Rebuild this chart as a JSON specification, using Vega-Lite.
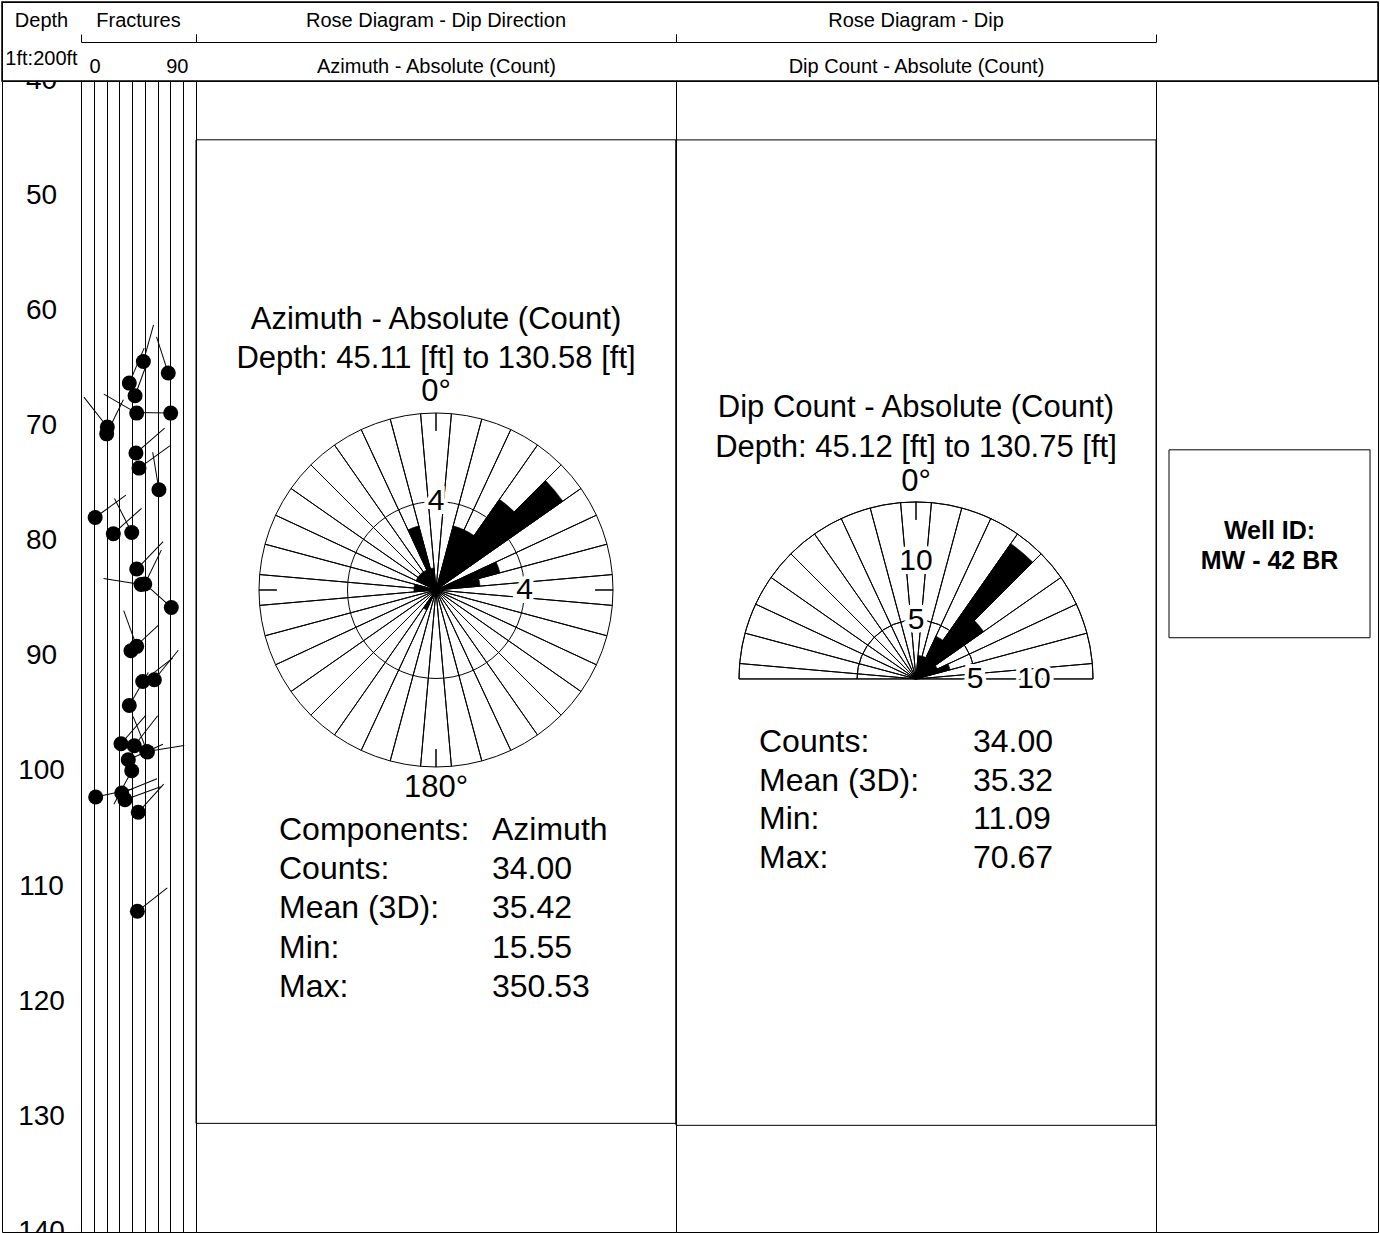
{
  "$schema": "https://vega.github.io/schema/vega-lite/v6.json",
  "padding": 0,
  "autosize": {"type": "pad"},
  "background": "white",
  "config": {
    "font": "Liberation Sans",
    "view": {"stroke": "black", "strokeWidth": 1},
    "title": {"font": "Liberation Sans", "fontWeight": "normal", "fontSize": 20, "color": "black", "subtitleFont": "Liberation Sans", "subtitleFontSize": 20, "subtitleColor": "black"},
    "axis": {"labelFont": "Liberation Sans", "titleFont": "Liberation Sans", "labelColor": "black", "titleColor": "black", "domainColor": "black", "tickColor": "black", "titleFontWeight": "normal"},
    "text": {"font": "Liberation Sans", "color": "black"}
  },
  "datasets": {
    "fractures": [
      {"depth": 64.37, "dip": 48.8, "azimuth": 15.55},
      {"depth": 65.38, "dip": 68.3, "azimuth": 342},
      {"depth": 66.25, "dip": 37.8, "azimuth": 23},
      {"depth": 67.35, "dip": 42.3, "azimuth": 20},
      {"depth": 68.86, "dip": 43.6, "azimuth": 300},
      {"depth": 68.86, "dip": 70.2, "azimuth": 271},
      {"depth": 70.07, "dip": 20.6, "azimuth": 322},
      {"depth": 70.66, "dip": 20.1, "azimuth": 26},
      {"depth": 72.33, "dip": 43.0, "azimuth": 49},
      {"depth": 73.64, "dip": 45.4, "azimuth": 54},
      {"depth": 75.52, "dip": 61.0, "azimuth": 350.53},
      {"depth": 77.93, "dip": 11.09, "azimuth": 54},
      {"depth": 79.34, "dip": 25.3, "azimuth": 48},
      {"depth": 79.23, "dip": 39.7, "azimuth": 333},
      {"depth": 82.41, "dip": 43.6, "azimuth": 44},
      {"depth": 83.71, "dip": 49.9, "azimuth": 26},
      {"depth": 83.75, "dip": 47.0, "azimuth": 279},
      {"depth": 85.75, "dip": 70.67, "azimuth": 312},
      {"depth": 89.51, "dip": 39.1, "azimuth": 47},
      {"depth": 89.13, "dip": 43.6, "azimuth": 340},
      {"depth": 92.18, "dip": 48.3, "azimuth": 52},
      {"depth": 92.03, "dip": 57.4, "azimuth": 39},
      {"depth": 94.26, "dip": 37.8, "azimuth": 30},
      {"depth": 97.59, "dip": 31.3, "azimuth": 41},
      {"depth": 97.76, "dip": 41.7, "azimuth": 38},
      {"depth": 98.26, "dip": 51.4, "azimuth": 81},
      {"depth": 98.3, "dip": 52.0, "azimuth": 338},
      {"depth": 98.98, "dip": 37.0, "azimuth": 66},
      {"depth": 99.94, "dip": 39.7, "azimuth": 208},
      {"depth": 102.22, "dip": 11.5, "azimuth": 78},
      {"depth": 101.87, "dip": 31.9, "azimuth": 68},
      {"depth": 102.45, "dip": 34.4, "azimuth": 70},
      {"depth": 103.55, "dip": 44.8, "azimuth": 42},
      {"depth": 112.15, "dip": 44.1, "azimuth": 52}
    ]
  },
  "spacing": 0,
  "bounds": "flush",
  "vconcat": [
    {
      "width": 1376,
      "height": 79,
      "data": {"values": [{}]},
      "mark": {"type": "rect", "fill": "white", "fillOpacity": 0, "stroke": "black", "strokeWidth": 1.5},
      "encoding": {
        "x": {"value": 0},
        "x2": {"value": "width"},
        "y": {"value": 0},
        "y2": {"value": "height"}
      }
    },
    {
      "spacing": 0,
      "bounds": "flush",
      "hconcat": [
        {
          "width": 79,
          "height": 1151,
          "title": {"text": "Depth", "subtitle": "1ft:200ft", "subtitlePadding": 18, "offset": 12, "anchor": "middle"},
          "data": {"values": [{"depth": 40}, {"depth": 50}, {"depth": 60}, {"depth": 70}, {"depth": 80}, {"depth": 90}, {"depth": 100}, {"depth": 110}, {"depth": 120}, {"depth": 130}, {"depth": 140}]},
          "mark": {"type": "text", "fontSize": 28, "clip": true, "align": "center", "baseline": "middle"},
          "encoding": {
            "y": {"field": "depth", "type": "quantitative", "scale": {"domain": [40, 140.02], "reverse": true, "nice": false, "zero": false}, "axis": null},
            "text": {"field": "depth", "type": "quantitative"}
          }
        },
        {
          "width": 115,
          "height": 1151,
          "title": {"text": "Fractures", "offset": 3, "anchor": "middle"},
          "data": {"name": "fractures"},
          "encoding": {
            "x": {
              "field": "dip", "type": "quantitative",
              "scale": {"domain": [0, 90], "nice": false, "zero": false},
              "axis": {
                "orient": "top", "offset": 39, "values": [0, 10, 20, 30, 40, 50, 60, 70, 80, 90],
                "grid": true, "gridColor": "black", "gridOpacity": 1, "gridWidth": 1,
                "domain": true, "domainWidth": 1, "ticks": true, "tickSize": 8, "tickWidth": 1,
                "tickColor": {"condition": {"test": "datum.value == 0 || datum.value == 90", "value": "black"}, "value": "transparent"},
                "labelExpr": "datum.value == 0 || datum.value == 90 ? datum.label : ''",
                "labelOverlap": false, "labelFlush": true, "labelFlushOffset": -8,
                "labelPadding": -32, "labelBaseline": "middle", "labelFontSize": 20, "title": null
              }
            },
            "y": {"field": "depth", "type": "quantitative", "scale": {"domain": [40, 140.02], "reverse": true, "nice": false, "zero": false}, "axis": null}
          },
          "layer": [
            {
              "mark": {"type": "point", "shape": "M0,0L0,-2", "filled": false, "color": "black", "strokeWidth": 1, "size": 1444, "opacity": 1},
              "encoding": {"angle": {"field": "azimuth", "type": "quantitative", "scale": null}}
            },
            {
              "mark": {"type": "point", "shape": "circle", "filled": true, "color": "black", "size": 225, "opacity": 1}
            }
          ]
        },
        {
          "width": 480,
          "height": 1151,
          "title": {"text": "Rose Diagram - Dip Direction", "offset": 3, "anchor": "middle"},
          "layer": [
            {
              "data": {"values": [{"top": 45.11, "base": 130.58}]},
              "mark": {"type": "rect", "fill": "white", "fillOpacity": 0, "stroke": "black", "strokeWidth": 1},
              "encoding": {
                "x": {"datum": 0, "type": "quantitative", "scale": {"domain": [0, 1], "nice": false, "zero": false},
                  "axis": {"orient": "top", "offset": 39, "values": [0, 1], "grid": false, "domain": true, "ticks": true, "tickSize": 8, "labels": false,
                    "title": "Azimuth - Absolute (Count)", "titleFontSize": 20, "titleY": 24, "titleBaseline": "middle"}},
                "x2": {"datum": 1},
                "y": {"field": "top", "type": "quantitative", "scale": {"domain": [40, 140.02], "reverse": true, "nice": false, "zero": false}, "axis": null},
                "y2": {"field": "base"}
              }
            },
            {
              "data": {"values": [
                {"a0": -5, "a1": 5}, {"a0": 5, "a1": 15}, {"a0": 15, "a1": 25}, {"a0": 25, "a1": 35}, {"a0": 35, "a1": 45}, {"a0": 45, "a1": 55},
                {"a0": 55, "a1": 65}, {"a0": 65, "a1": 75}, {"a0": 75, "a1": 85}, {"a0": 85, "a1": 95}, {"a0": 95, "a1": 105}, {"a0": 105, "a1": 115},
                {"a0": 115, "a1": 125}, {"a0": 125, "a1": 135}, {"a0": 135, "a1": 145}, {"a0": 145, "a1": 155}, {"a0": 155, "a1": 165}, {"a0": 165, "a1": 175},
                {"a0": 175, "a1": 185}, {"a0": 185, "a1": 195}, {"a0": 195, "a1": 205}, {"a0": 205, "a1": 215}, {"a0": 215, "a1": 225}, {"a0": 225, "a1": 235},
                {"a0": 235, "a1": 245}, {"a0": 245, "a1": 255}, {"a0": 255, "a1": 265}, {"a0": 265, "a1": 275}, {"a0": 275, "a1": 285}, {"a0": 285, "a1": 295},
                {"a0": 295, "a1": 305}, {"a0": 305, "a1": 315}, {"a0": 315, "a1": 325}, {"a0": 325, "a1": 335}, {"a0": 335, "a1": 345}, {"a0": 345, "a1": 355}
              ]},
              "mark": {"type": "arc", "filled": false, "color": "black", "strokeWidth": 1},
              "encoding": {
                "theta": {"field": "a0", "type": "quantitative", "stack": null, "scale": {"domain": [0, 360], "range": [0, 6.283185307179586], "nice": false, "zero": false}},
                "theta2": {"field": "a1"},
                "radius": {"datum": 8, "type": "quantitative", "scale": {"type": "linear", "domain": [0, 8], "range": [0, 177], "nice": false, "zero": true}},
                "radius2": {"value": 0},
                "y": {"datum": 84.23, "type": "quantitative", "scale": {"domain": [40, 140.02], "reverse": true, "nice": false, "zero": false}, "axis": null}
              }
            },
            {
              "data": {"values": [{"ring": 4}]},
              "mark": {"type": "arc", "filled": false, "color": "black", "strokeWidth": 1},
              "encoding": {
                "theta": {"datum": 0, "type": "quantitative", "stack": null, "scale": {"domain": [0, 360], "range": [0, 6.283185307179586], "nice": false, "zero": false}},
                "theta2": {"datum": 360},
                "radius": {"field": "ring", "type": "quantitative", "scale": {"type": "linear", "domain": [0, 8], "range": [0, 177], "nice": false, "zero": true}},
                "radius2": {"value": 0},
                "y": {"datum": 84.23, "type": "quantitative", "scale": {"domain": [40, 140.02], "reverse": true, "nice": false, "zero": false}, "axis": null}
              }
            },
            {
              "data": {"values": [{"deg": 0}, {"deg": 90}, {"deg": 180}, {"deg": 270}]},
              "mark": {"type": "arc", "filled": false, "color": "black", "strokeWidth": 1},
              "encoding": {
                "theta": {"field": "deg", "type": "quantitative", "stack": null, "scale": {"domain": [0, 360], "range": [0, 6.283185307179586], "nice": false, "zero": false}},
                "theta2": {"field": "deg"},
                "radius": {"datum": 8, "type": "quantitative", "scale": {"type": "linear", "domain": [0, 8], "range": [0, 177], "nice": false, "zero": true}},
                "radius2": {"datum": 7.19},
                "y": {"datum": 84.23, "type": "quantitative", "scale": {"domain": [40, 140.02], "reverse": true, "nice": false, "zero": false}, "axis": null}
              }
            },
            {
              "data": {"name": "fractures"},
              "transform": [
                {"bin": {"extent": [5, 365], "step": 10, "nice": false}, "field": "azimuth", "as": ["az0", "az1"]},
                {"aggregate": [{"op": "count", "as": "n"}], "groupby": ["az0", "az1"]}
              ],
              "mark": {"type": "arc", "filled": true, "color": "black", "stroke": "black", "strokeWidth": 0.5},
              "encoding": {
                "theta": {"field": "az0", "type": "quantitative", "stack": null, "scale": {"domain": [0, 360], "range": [0, 6.283185307179586], "nice": false, "zero": false}},
                "theta2": {"field": "az1"},
                "radius": {"field": "n", "type": "quantitative", "scale": {"type": "linear", "domain": [0, 8], "range": [0, 177], "nice": false, "zero": true}},
                "radius2": {"value": 0},
                "y": {"datum": 84.23, "type": "quantitative", "scale": {"domain": [40, 140.02], "reverse": true, "nice": false, "zero": false}, "axis": null}
              }
            },
            {
              "data": {"values": [{"deg": 0, "ring": 4, "label": "4"}, {"deg": 90, "ring": 4, "label": "4"}]},
              "mark": {"type": "text", "fontSize": 30, "fill": "white", "stroke": "white", "strokeWidth": 8, "align": "center", "baseline": "middle"},
              "encoding": {
                "theta": {"field": "deg", "type": "quantitative", "stack": null, "scale": {"domain": [0, 360], "range": [0, 6.283185307179586], "nice": false, "zero": false}},
                "radius": {"field": "ring", "type": "quantitative", "scale": {"type": "linear", "domain": [0, 8], "range": [0, 177], "nice": false, "zero": true}},
                "text": {"field": "label", "type": "nominal"},
                "y": {"datum": 84.23, "type": "quantitative", "scale": {"domain": [40, 140.02], "reverse": true, "nice": false, "zero": false}, "axis": null}
              }
            },
            {
              "data": {"values": [{"deg": 0, "ring": 4, "label": "4"}, {"deg": 90, "ring": 4, "label": "4"}]},
              "mark": {"type": "text", "fontSize": 30, "color": "black", "align": "center", "baseline": "middle"},
              "encoding": {
                "theta": {"field": "deg", "type": "quantitative", "stack": null, "scale": {"domain": [0, 360], "range": [0, 6.283185307179586], "nice": false, "zero": false}},
                "radius": {"field": "ring", "type": "quantitative", "scale": {"type": "linear", "domain": [0, 8], "range": [0, 177], "nice": false, "zero": true}},
                "text": {"field": "label", "type": "nominal"},
                "y": {"datum": 84.23, "type": "quantitative", "scale": {"domain": [40, 140.02], "reverse": true, "nice": false, "zero": false}, "axis": null}
              }
            },
            {
              "data": {"values": [{"deg": 0, "label": "0°"}, {"deg": 180, "label": "180°"}]},
              "mark": {"type": "text", "fontSize": 31, "color": "black", "align": "center", "baseline": "middle"},
              "encoding": {
                "theta": {"field": "deg", "type": "quantitative", "stack": null, "scale": {"domain": [0, 360], "range": [0, 6.283185307179586], "nice": false, "zero": false}},
                "radius": {"datum": 8.95, "type": "quantitative", "scale": {"type": "linear", "domain": [0, 8], "range": [0, 177], "nice": false, "zero": true}},
                "text": {"field": "label", "type": "nominal"},
                "y": {"datum": 84.23, "type": "quantitative", "scale": {"domain": [40, 140.02], "reverse": true, "nice": false, "zero": false}, "axis": null}
              }
            },
            {
              "data": {"values": [{"lines": ["Azimuth - Absolute (Count)", "Depth: 45.11 [ft] to 130.58 [ft]"]}]},
              "mark": {"type": "text", "fontSize": 31, "color": "black", "align": "center", "baseline": "top", "lineHeight": 39},
              "encoding": {
                "text": {"field": "lines", "type": "nominal"},
                "y": {"datum": 59.47, "type": "quantitative", "scale": {"domain": [40, 140.02], "reverse": true, "nice": false, "zero": false}, "axis": null}
              }
            },
            {
              "data": {"values": [{"names": ["Components:", "Counts:", "Mean (3D):", "Min:", "Max:"], "vals": ["Azimuth", "34.00", "35.42", "15.55", "350.53"]}]},
              "mark": {"type": "text", "fontSize": 32, "color": "black", "align": "left", "baseline": "top", "lineHeight": 39.25, "dx": -157},
              "encoding": {
                "text": {"field": "names", "type": "nominal"},
                "y": {"datum": 103.78, "type": "quantitative", "scale": {"domain": [40, 140.02], "reverse": true, "nice": false, "zero": false}, "axis": null}
              }
            },
            {
              "data": {"values": [{"names": ["Components:", "Counts:", "Mean (3D):", "Min:", "Max:"], "vals": ["Azimuth", "34.00", "35.42", "15.55", "350.53"]}]},
              "mark": {"type": "text", "fontSize": 32, "color": "black", "align": "left", "baseline": "top", "lineHeight": 39.25, "dx": 56},
              "encoding": {
                "text": {"field": "vals", "type": "nominal"},
                "y": {"datum": 103.78, "type": "quantitative", "scale": {"domain": [40, 140.02], "reverse": true, "nice": false, "zero": false}, "axis": null}
              }
            }
          ]
        },
        {
          "width": 480,
          "height": 1151,
          "title": {"text": "Rose Diagram - Dip", "offset": 3, "anchor": "middle"},
          "layer": [
            {
              "data": {"values": [{"top": 45.12, "base": 130.75}]},
              "mark": {"type": "rect", "fill": "white", "fillOpacity": 0, "stroke": "black", "strokeWidth": 1},
              "encoding": {
                "x": {"datum": 0, "type": "quantitative", "scale": {"domain": [0, 1], "nice": false, "zero": false},
                  "axis": {"orient": "top", "offset": 39, "values": [0, 1], "grid": false, "domain": true, "ticks": true, "tickSize": 8, "labels": false,
                    "title": "Dip Count - Absolute (Count)", "titleFontSize": 20, "titleY": 24, "titleBaseline": "middle"}},
                "x2": {"datum": 1},
                "y": {"field": "top", "type": "quantitative", "scale": {"domain": [40, 140.02], "reverse": true, "nice": false, "zero": false}, "axis": null},
                "y2": {"field": "base"}
              }
            },
            {
              "data": {"values": [
                {"a0": -90, "a1": -85}, {"a0": -85, "a1": -75}, {"a0": -75, "a1": -65}, {"a0": -65, "a1": -55}, {"a0": -55, "a1": -45},
                {"a0": -45, "a1": -35}, {"a0": -35, "a1": -25}, {"a0": -25, "a1": -15}, {"a0": -15, "a1": -5}, {"a0": -5, "a1": 5},
                {"a0": 5, "a1": 15}, {"a0": 15, "a1": 25}, {"a0": 25, "a1": 35}, {"a0": 35, "a1": 45}, {"a0": 45, "a1": 55},
                {"a0": 55, "a1": 65}, {"a0": 65, "a1": 75}, {"a0": 75, "a1": 85}, {"a0": 85, "a1": 90}
              ]},
              "mark": {"type": "arc", "filled": false, "color": "black", "strokeWidth": 1},
              "encoding": {
                "theta": {"field": "a0", "type": "quantitative", "stack": null, "scale": {"domain": [0, 360], "range": [0, 6.283185307179586], "nice": false, "zero": false}},
                "theta2": {"field": "a1"},
                "radius": {"datum": 15, "type": "quantitative", "scale": {"type": "linear", "domain": [0, 15], "range": [0, 177], "nice": false, "zero": true}},
                "radius2": {"value": 0},
                "y": {"datum": 91.96, "type": "quantitative", "scale": {"domain": [40, 140.02], "reverse": true, "nice": false, "zero": false}, "axis": null}
              }
            },
            {
              "data": {"values": [{"ring": 5}, {"ring": 10}]},
              "mark": {"type": "arc", "filled": false, "color": "black", "strokeWidth": 1},
              "encoding": {
                "theta": {"datum": -90, "type": "quantitative", "stack": null, "scale": {"domain": [0, 360], "range": [0, 6.283185307179586], "nice": false, "zero": false}},
                "theta2": {"datum": 90},
                "radius": {"field": "ring", "type": "quantitative", "scale": {"type": "linear", "domain": [0, 15], "range": [0, 177], "nice": false, "zero": true}},
                "radius2": {"value": 0},
                "y": {"datum": 91.96, "type": "quantitative", "scale": {"domain": [40, 140.02], "reverse": true, "nice": false, "zero": false}, "axis": null}
              }
            },
            {
              "data": {"values": [{"deg": 0}]},
              "mark": {"type": "arc", "filled": false, "color": "black", "strokeWidth": 1},
              "encoding": {
                "theta": {"field": "deg", "type": "quantitative", "stack": null, "scale": {"domain": [0, 360], "range": [0, 6.283185307179586], "nice": false, "zero": false}},
                "theta2": {"field": "deg"},
                "radius": {"datum": 15, "type": "quantitative", "scale": {"type": "linear", "domain": [0, 15], "range": [0, 177], "nice": false, "zero": true}},
                "radius2": {"datum": 13.48},
                "y": {"datum": 91.96, "type": "quantitative", "scale": {"domain": [40, 140.02], "reverse": true, "nice": false, "zero": false}, "axis": null}
              }
            },
            {
              "data": {"name": "fractures"},
              "transform": [
                {"bin": {"extent": [5, 95], "step": 10, "nice": false}, "field": "dip", "as": ["d0", "d1"]},
                {"aggregate": [{"op": "count", "as": "n"}], "groupby": ["d0", "d1"]}
              ],
              "mark": {"type": "arc", "filled": true, "color": "black", "stroke": "black", "strokeWidth": 0.5},
              "encoding": {
                "theta": {"field": "d0", "type": "quantitative", "stack": null, "scale": {"domain": [0, 360], "range": [0, 6.283185307179586], "nice": false, "zero": false}},
                "theta2": {"field": "d1"},
                "radius": {"field": "n", "type": "quantitative", "scale": {"type": "linear", "domain": [0, 15], "range": [0, 177], "nice": false, "zero": true}},
                "radius2": {"value": 0},
                "y": {"datum": 91.96, "type": "quantitative", "scale": {"domain": [40, 140.02], "reverse": true, "nice": false, "zero": false}, "axis": null}
              }
            },
            {
              "data": {"values": [{"deg": 0, "ring": 10, "label": "10"}, {"deg": 0, "ring": 5, "label": "5"}, {"deg": 90, "ring": 5, "label": "5"}, {"deg": 90, "ring": 10, "label": "10"}]},
              "mark": {"type": "text", "fontSize": 30, "fill": "white", "stroke": "white", "strokeWidth": 8, "align": "center", "baseline": "middle"},
              "encoding": {
                "theta": {"field": "deg", "type": "quantitative", "stack": null, "scale": {"domain": [0, 360], "range": [0, 6.283185307179586], "nice": false, "zero": false}},
                "radius": {"field": "ring", "type": "quantitative", "scale": {"type": "linear", "domain": [0, 15], "range": [0, 177], "nice": false, "zero": true}},
                "text": {"field": "label", "type": "nominal"},
                "y": {"datum": 91.96, "type": "quantitative", "scale": {"domain": [40, 140.02], "reverse": true, "nice": false, "zero": false}, "axis": null}
              }
            },
            {
              "data": {"values": [{"deg": 0, "ring": 10, "label": "10"}, {"deg": 0, "ring": 5, "label": "5"}, {"deg": 90, "ring": 5, "label": "5"}, {"deg": 90, "ring": 10, "label": "10"}]},
              "mark": {"type": "text", "fontSize": 30, "color": "black", "align": "center", "baseline": "middle"},
              "encoding": {
                "theta": {"field": "deg", "type": "quantitative", "stack": null, "scale": {"domain": [0, 360], "range": [0, 6.283185307179586], "nice": false, "zero": false}},
                "radius": {"field": "ring", "type": "quantitative", "scale": {"type": "linear", "domain": [0, 15], "range": [0, 177], "nice": false, "zero": true}},
                "text": {"field": "label", "type": "nominal"},
                "y": {"datum": 91.96, "type": "quantitative", "scale": {"domain": [40, 140.02], "reverse": true, "nice": false, "zero": false}, "axis": null}
              }
            },
            {
              "data": {"values": [{"deg": 0, "label": "0°"}]},
              "mark": {"type": "text", "fontSize": 31, "color": "black", "align": "center", "baseline": "middle"},
              "encoding": {
                "theta": {"field": "deg", "type": "quantitative", "stack": null, "scale": {"domain": [0, 360], "range": [0, 6.283185307179586], "nice": false, "zero": false}},
                "radius": {"datum": 16.7, "type": "quantitative", "scale": {"type": "linear", "domain": [0, 15], "range": [0, 177], "nice": false, "zero": true}},
                "text": {"field": "label", "type": "nominal"},
                "y": {"datum": 91.96, "type": "quantitative", "scale": {"domain": [40, 140.02], "reverse": true, "nice": false, "zero": false}, "axis": null}
              }
            },
            {
              "data": {"values": [{"lines": ["Dip Count - Absolute (Count)", "Depth: 45.12 [ft] to 130.75 [ft]"]}]},
              "mark": {"type": "text", "fontSize": 31, "color": "black", "align": "center", "baseline": "top", "lineHeight": 40},
              "encoding": {
                "text": {"field": "lines", "type": "nominal"},
                "y": {"datum": 67.11, "type": "quantitative", "scale": {"domain": [40, 140.02], "reverse": true, "nice": false, "zero": false}, "axis": null}
              }
            },
            {
              "data": {"values": [{"names": ["Counts:", "Mean (3D):", "Min:", "Max:"], "vals": ["34.00", "35.32", "11.09", "70.67"]}]},
              "mark": {"type": "text", "fontSize": 32, "color": "black", "align": "left", "baseline": "top", "lineHeight": 38.7, "dx": -157},
              "encoding": {
                "text": {"field": "names", "type": "nominal"},
                "y": {"datum": 96.13, "type": "quantitative", "scale": {"domain": [40, 140.02], "reverse": true, "nice": false, "zero": false}, "axis": null}
              }
            },
            {
              "data": {"values": [{"names": ["Counts:", "Mean (3D):", "Min:", "Max:"], "vals": ["34.00", "35.32", "11.09", "70.67"]}]},
              "mark": {"type": "text", "fontSize": 32, "color": "black", "align": "left", "baseline": "top", "lineHeight": 38.7, "dx": 57},
              "encoding": {
                "text": {"field": "vals", "type": "nominal"},
                "y": {"datum": 96.13, "type": "quantitative", "scale": {"domain": [40, 140.02], "reverse": true, "nice": false, "zero": false}, "axis": null}
              }
            }
          ]
        },
        {
          "width": 222,
          "height": 1151,
          "data": {"values": [{"well": "MW - 42 BR", "lines": ["Well ID:", "MW - 42 BR"], "top": 72.05, "base": 88.38}]},
          "encoding": {
            "x": {"field": "well", "type": "nominal", "scale": {"paddingOuter": 0.0522, "paddingInner": 0, "align": 0.62}, "axis": null}
          },
          "layer": [
            {
              "mark": {"type": "rect", "fill": "white", "stroke": "black", "strokeWidth": 1},
              "encoding": {
                "y": {"field": "top", "type": "quantitative", "scale": {"domain": [40, 140.02], "reverse": true, "nice": false, "zero": false}, "axis": null},
                "y2": {"field": "base"}
              }
            },
            {
              "mark": {"type": "text", "fontSize": 25, "fontWeight": "bold", "color": "black", "align": "center", "baseline": "top", "lineHeight": 30},
              "encoding": {
                "text": {"field": "lines", "type": "nominal"},
                "y": {"datum": 78.06, "type": "quantitative", "scale": {"domain": [40, 140.02], "reverse": true, "nice": false, "zero": false}, "axis": null}
              }
            }
          ]
        }
      ]
    }
  ]
}
